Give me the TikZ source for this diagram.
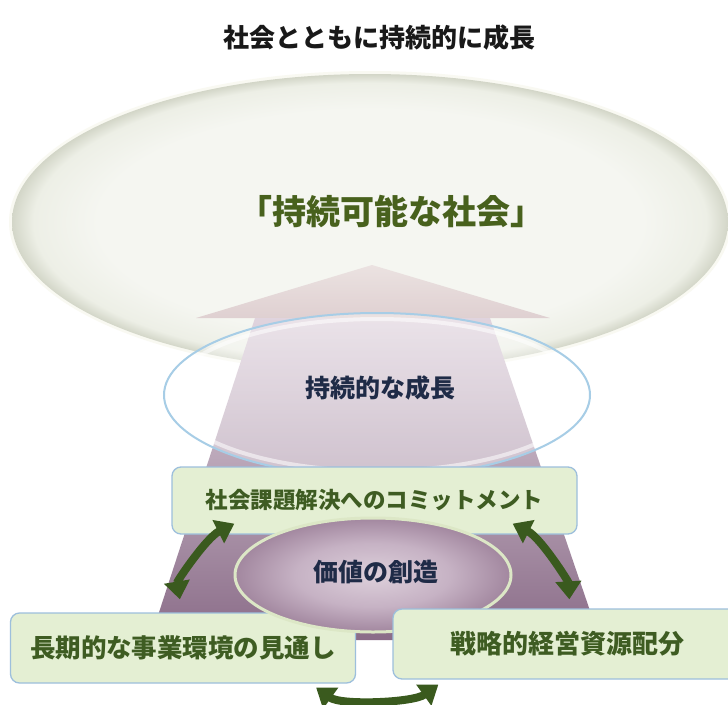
\documentclass[tikz,border=0pt]{standalone}
\usepackage{fontspec}
\newfontfamily\jp{Noto Sans CJK JP}
\usetikzlibrary{arrows.meta,calc,shapes.geometric}
\definecolor{bgA}{HTML}{F5F6F1}
\definecolor{bgB}{HTML}{EDEFE6}
\definecolor{bgC}{HTML}{D3D6C8}
\definecolor{vA}{HTML}{DDD0DB}
\definecolor{vB}{HTML}{C6B2C4}
\definecolor{vC}{HTML}{A2879F}
\definecolor{gtext}{HTML}{3E5C22}
\definecolor{ntext}{HTML}{1F2B47}
\definecolor{boxfill}{HTML}{E4EFD3}
\definecolor{boxline}{HTML}{9DBFDC}
\definecolor{garrowc}{HTML}{3A5A1E}
\definecolor{bluering}{HTML}{A7CDE6}
\definecolor{ringgreen}{HTML}{DCE7C6}
\definecolor{headA}{HTML}{EBE2E1}
\definecolor{headB}{HTML}{DFD0D1}
\definecolor{shaftA}{HTML}{E0D4DE}
\definecolor{shaftB}{HTML}{8A6C88}
\pgfdeclareradialshading{bigell}{\pgfpoint{0bp}{0bp}}{color(0bp)=(bgA); color(19bp)=(bgA); color(23.5bp)=(bgB); color(25bp)=(bgC); color(50bp)=(bgC)}
\pgfdeclareradialshading{valell}{\pgfpoint{0bp}{0bp}}{color(0bp)=(vA); color(14bp)=(vB); color(25bp)=(vC); color(50bp)=(vC)}
\begin{document}
\begin{tikzpicture}[x=1pt,y=-1pt,
  jpt/.style={font=\jp\bfseries, inner sep=0pt},
  box/.style={draw=boxline, line width=1.3pt, fill=boxfill, rounded corners=9pt, inner sep=0pt},
  garrow/.style={draw=garrowc, line width=8pt, arrows={Triangle[width=25pt,length=18pt]-Triangle[width=25pt,length=18pt]}}]
\useasboundingbox (0,0) rectangle (728,704);
\fill[white] (0,0) rectangle (728,704);

% title
\node[jpt, text=black!90, font=\jp\bfseries\fontsize{26}{30}\selectfont] (title) at (379,38) {社会とともに持続的に成長};

% big ellipse with soft rim
\fill[black!25!olive!20!white, opacity=0.2] (370,222) ellipse [x radius=361, y radius=151];
\node[ellipse, minimum width=716pt, minimum height=296pt, inner sep=0pt, shade, shading=bigell] (society) at (370,222) {};
\node[jpt, text=gtext!85!olive, font=\jp\bfseries\fontsize{34}{38}\selectfont] (societytxt) at (391,211) {「持続可能な社会」};

% arrow
\shade[top color=headA, bottom color=headB] (372,265) -- (550,318) -- (196,318) -- cycle;
\shade[top color=shaftA, bottom color=shaftB] (255,318) -- (490,318) -- (600,640) -- (150,640) -- cycle;

% medium ellipse
\node[ellipse, minimum width=426pt, minimum height=164pt, inner sep=0pt, fill=white, fill opacity=0.35, draw=bluering, line width=2pt] (growth) at (377,395) {};
\node[ellipse, minimum width=414pt, minimum height=152pt, inner sep=0pt, draw=white, draw opacity=0.55, line width=4pt] (growthin) at (377,395) {};
\node[jpt, text=ntext, font=\jp\bfseries\fontsize{25}{29}\selectfont] (growthtxt) at (380,388) {持続的な成長};

% top box
\node[box, minimum width=405pt, minimum height=67pt, font=\jp\bfseries\fontsize{22.5}{26}\selectfont, text=gtext] (top) at (374.5,500.5) {社会課題解決へのコミットメント};

% left box
\node[box, minimum width=345pt, minimum height=70pt, font=\jp\bfseries\fontsize{25.5}{29}\selectfont, text=gtext] (left) at (183,648) {長期的な事業環境の見通し};

% value ellipse
\node[ellipse, minimum width=276pt, minimum height=114pt, inner sep=0pt, shade, shading=valell, draw=ringgreen, line width=3pt] (value) at (373,575) {};
\node[jpt, text=ntext, font=\jp\bfseries\fontsize{25}{29}\selectfont] (valuetxt) at (376,572) {価値の創造};

% right box
\node[box, minimum width=348pt, minimum height=70pt, font=\jp\bfseries\fontsize{26}{30}\selectfont, text=gtext] (right) at (567,644) {戦略的経営資源配分};

% green arrows
\coordinate (la1) at ([xshift=63pt,yshift=11pt]top.south west);
\coordinate (la2) at ([xshift=170pt,yshift=13pt]left.north west);
\draw[garrow] (la1) .. controls ($(la1)+(-28,14)$) and ($(la2)+(-3,-18)$) .. (la2);
\coordinate (ra1) at ([xshift=-65pt,yshift=11pt]top.south east);
\coordinate (ra2) at ([xshift=177pt,yshift=9pt]right.north west);
\draw[garrow] (ra1) .. controls ($(ra1)+(28,14)$) and ($(ra2)+(-1,-18)$) .. (ra2);
\coordinate (ba1) at ([xshift=-40pt,yshift=-4pt]left.south east);
\coordinate (ba2) at ([xshift=46pt,yshift=-5pt]right.south west);
\draw[garrow] (ba1) .. controls ($(ba1)+(25,18)$) and ($(ba2)+(-25,18)$) .. (ba2);
\end{tikzpicture}
\end{document}
